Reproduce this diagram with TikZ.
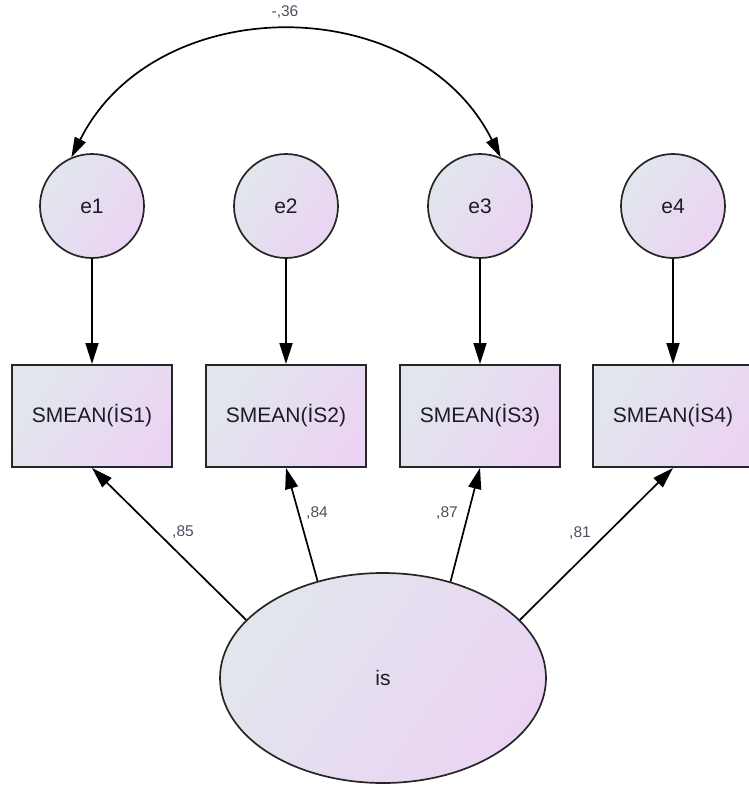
\documentclass[tikz,border=0pt]{standalone}
\usepackage{fontspec}
\setmainfont{Liberation Sans}
\usetikzlibrary{shapes.geometric,arrows.meta}
\definecolor{fillA}{HTML}{E1E6ED}
\definecolor{fillB}{HTML}{EBD4F3}
\definecolor{edge}{HTML}{262626}
\definecolor{txt}{HTML}{1C1C24}
\definecolor{coef}{HTML}{4C5060}
\begin{document}
\begin{tikzpicture}[x=1pt,y=-1pt,
  grad/.style={top color=fillA, bottom color=fillB, shading angle=55},
  latent/.style={ellipse, draw=edge, line width=1.7pt, grad, inner sep=0pt,
    text=txt, font=\fontsize{21}{25}\selectfont},
  errnode/.style={circle, draw=edge, line width=1.7pt, grad, inner sep=0pt,
    minimum size=104pt, text=txt, font=\fontsize{21}{25}\selectfont},
  obsbox/.style={rectangle, draw=edge, line width=1.9pt, grad, inner sep=0pt,
    minimum width=160pt, minimum height=102pt, text=txt,
    font=\fontsize{21}{25}\selectfont},
  path/.style={draw=black, line width=1.7pt, -{Triangle[length=21pt,width=13pt]}},
  cov/.style={draw=black, line width=1.7pt,
    {Triangle[length=20pt,width=12pt]}-{Triangle[length=20pt,width=12pt]}},
  est/.style={text=coef, font=\fontsize{15.5}{18}\selectfont, inner sep=0pt}]

\useasboundingbox (0,0) rectangle (749,787);

% error terms
\node[errnode] (e1) at (92,206)  {e1};
\node[errnode] (e2) at (286,206) {e2};
\node[errnode] (e3) at (480,206) {e3};
\node[errnode] (e4) at (673,206) {e4};

% observed indicators
\node[obsbox] (b1) at (92,416)  {SMEAN(İS1)};
\node[obsbox] (b2) at (286,416) {SMEAN(İS2)};
\node[obsbox] (b3) at (480,416) {SMEAN(İS3)};
\node[obsbox] (b4) at (673,416) {SMEAN(İS4)};

% latent factor
\node[latent, minimum width=326pt, minimum height=210pt] (is) at (383,678) {is};

% residual paths
\draw[path] (e1) -- (b1);
\draw[path] (e2) -- (b2);
\draw[path] (e3) -- (b3);
\draw[path] (e4) -- (b4);

% factor loadings
\draw[path] (is.157)  -- (b1.south);
\draw[path] (is.124.5) -- (b2.south);
\draw[path] (is.55.5) -- (b3.south);
\draw[path] (is.23)   -- (b4.south);

% error covariance
\draw[cov] (e1.113) to[out=63.4,in=116.6,looseness=1.12] (e3.67);

% estimates
\node[est] (k1) at (183,532) {,85};
\node[est] (k2) at (317,513) {,84};
\node[est] (k3) at (447,513) {,87};
\node[est] (k4) at (580,533) {,81};
\node[est] (kc) at (285,12)  {-,36};
\end{tikzpicture}
\end{document}
